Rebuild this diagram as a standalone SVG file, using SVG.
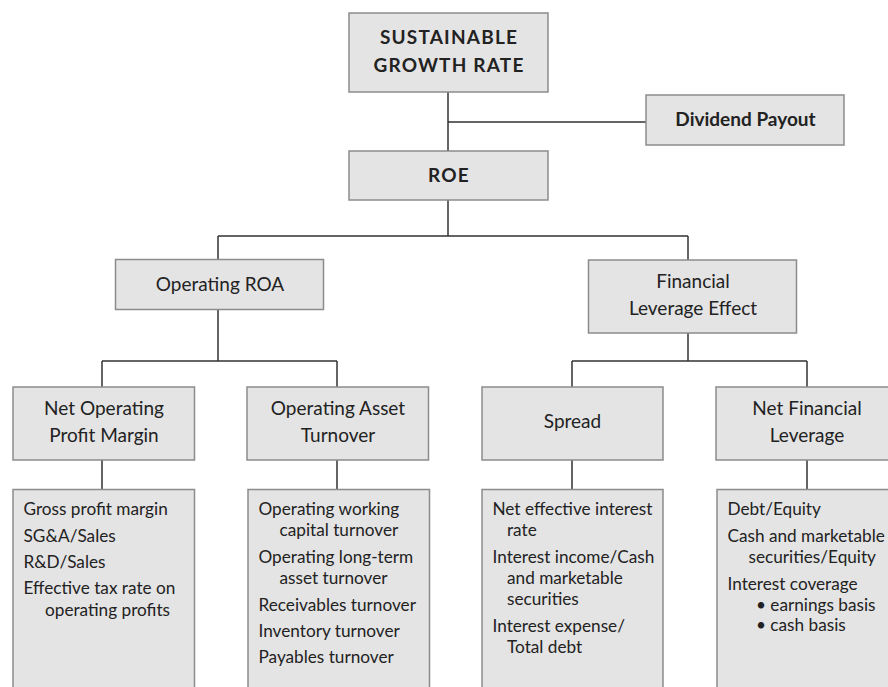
<svg xmlns="http://www.w3.org/2000/svg" width="888" height="687" viewBox="0 0 888 687">
<style>
.box{fill:#e4e4e4;stroke:#8c8c8c;stroke-width:1.5}
.con{fill:none;stroke:#333;stroke-width:1.5}
text{font-family:Lato,"Open Sans","Liberation Sans",sans-serif;fill:#222;font-size:17.2px}
.h{font-size:19px}
.b{font-weight:bold;font-size:19px}
.caps{letter-spacing:1.2px}
.c{text-anchor:middle}
</style>
<rect width="888" height="687" fill="#fff"/>
<g id="connectors">
<path class="con" d="M448 92V151M448 122H646M448 200V236M218 236H688M218 236V259.5M688 236V260M218 310V361M102 361H337M102 361V387M337 361V387M688 333V361M572 361H807M572 361V387M807 361V387M102 460V489.5M337 460V489.5M572 460V489.5M807 460V489.5"/>
</g>
<g id="sgr">
<rect class="box" x="349" y="13" width="199" height="79"/>
<text class="b c caps" x="449" y="44">SUSTAINABLE</text>
<text class="b c caps" x="449" y="72">GROWTH RATE</text>
</g>
<g id="dividend">
<rect class="box" x="646" y="95" width="198" height="50"/>
<text class="b c" x="745.5" y="126">Dividend Payout</text>
</g>
<g id="roe">
<rect class="box" x="349" y="151" width="199" height="49"/>
<text class="b c caps" x="449" y="182">ROE</text>
</g>
<g id="oroa">
<rect class="box" x="115.5" y="259.5" width="208" height="50"/>
<text class="h c" x="220" y="291">Operating ROA</text>
</g>
<g id="fle">
<rect class="box" x="588.5" y="260" width="208" height="73"/>
<text class="h c" x="693" y="288">Financial</text>
<text class="h c" x="693" y="315">Leverage Effect</text>
</g>
<g id="nopm">
<rect class="box" x="13" y="387" width="181.5" height="73"/>
<text class="h c" x="104" y="415">Net Operating</text>
<text class="h c" x="104" y="442">Profit Margin</text>
</g>
<g id="oat">
<rect class="box" x="247" y="387" width="181.5" height="73"/>
<text class="h c" x="338" y="415">Operating Asset</text>
<text class="h c" x="338" y="442">Turnover</text>
</g>
<g id="spread">
<rect class="box" x="482" y="387" width="181" height="73"/>
<text class="h c" x="572.5" y="428">Spread</text>
</g>
<g id="nfl">
<rect class="box" x="716" y="387" width="190" height="73"/>
<text class="h c" x="807" y="415">Net Financial</text>
<text class="h c" x="807" y="442">Leverage</text>
</g>
<g id="nopm-items">
<rect class="box" x="13" y="489.5" width="181.5" height="220"/>
<text x="23.5" y="515">Gross profit margin</text>
<text x="23.5" y="541.7">SG&amp;A/Sales</text>
<text x="23.5" y="568.3">R&amp;D/Sales</text>
<text x="23.5" y="594.3">Effective tax rate on</text>
<text x="45" y="616">operating profits</text>
</g>
<g id="oat-items">
<rect class="box" x="248" y="489.5" width="181.5" height="220"/>
<text x="258.5" y="515">Operating working</text>
<text x="279.5" y="535.7">capital turnover</text>
<text x="258.5" y="563.3">Operating long-term</text>
<text x="279.5" y="584">asset turnover</text>
<text x="258.5" y="610.7">Receivables turnover</text>
<text x="258.5" y="636.7">Inventory turnover</text>
<text x="258.5" y="663.3">Payables turnover</text>
</g>
<g id="spread-items">
<rect class="box" x="482" y="489.5" width="181" height="220"/>
<text x="492.5" y="515">Net effective interest</text>
<text x="507" y="535.7">rate</text>
<text x="492.5" y="563.3">Interest income/Cash</text>
<text x="507" y="584">and marketable</text>
<text x="507" y="605">securities</text>
<text x="492.5" y="632.3">Interest expense/</text>
<text x="507" y="653.3">Total debt</text>
</g>
<g id="nfl-items">
<rect class="box" x="717" y="489.5" width="190" height="220"/>
<text x="727.5" y="515">Debt/Equity</text>
<text x="727.5" y="541.7">Cash and marketable</text>
<text x="748.5" y="562.7">securities/Equity</text>
<text x="727.5" y="590">Interest coverage</text>
<text x="756" y="610.7">• earnings basis</text>
<text x="756" y="630.7">• cash basis</text>
</g>
</svg>
